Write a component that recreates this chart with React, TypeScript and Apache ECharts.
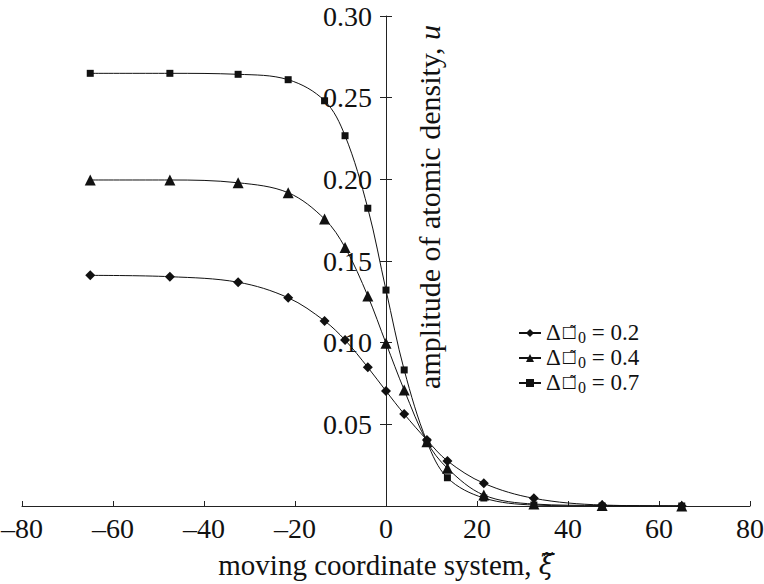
import React, { useEffect, useRef } from "react";
import * as echarts from "echarts";

const xi = [-65, -47.5, -32.5, -21.5, -13.5, -9, -4, 0, 4, 9, 13.5, 21.5, 32.5, 47.5, 65];
const u02 = [0.1412, 0.1404, 0.137, 0.1275, 0.1133, 0.1016, 0.0849, 0.0704, 0.0563, 0.0404, 0.0276, 0.0139, 0.0047, 0.0006, 0.0];
const u04 = [0.1996, 0.1996, 0.1979, 0.1918, 0.1757, 0.1583, 0.1286, 0.0996, 0.071, 0.0394, 0.0231, 0.0067, 0.0012, 0.0003, 0.0];
const u07 = [0.2649, 0.2649, 0.2643, 0.261, 0.2481, 0.2267, 0.1823, 0.1322, 0.0833, 0.0394, 0.0173, 0.0049, 0.0006, 0.0, 0.0];
const seriesNames = ["0.2", "0.4", "0.7"];
const xTicks = { min: -80, max: 80, interval: 20 };
const yTicks = { min: 0, max: 0.3, interval: 0.05 };

const FONT = "Liberation Serif";
const GRID_LEFT = 22;
const GRID_RIGHT = 14;
const CHART_W = 764;

export default function App() {
  const ref = useRef<HTMLDivElement>(null);
  useEffect(() => {
    if (!ref.current) return;
    const chart = echarts.init(ref.current, null, { renderer: "svg" });
    const mk = (arr: number[]) => xi.map((x, i) => [x, arr[i]]);
    const symbols = ["diamond", "triangle", "rect"];
    const sizes = [10, 11, 7];
    const datas = [u02, u04, u07];
    const gridW = CHART_W - GRID_LEFT - GRID_RIGHT;
    const zeroOffset = -(gridW * (0 - xTicks.min)) / (xTicks.max - xTicks.min);
    chart.setOption({
      animation: false,
      backgroundColor: "#fff",
      textStyle: { fontFamily: FONT, color: "#111" },
      grid: { left: GRID_LEFT, right: GRID_RIGHT, top: 16, bottom: 78, containLabel: false, outerBoundsMode: "none" },
      legend: {
        orient: "vertical",
        left: 513,
        top: 316,
        itemWidth: 22,
        itemHeight: 10,
        itemGap: 1,
        data: seriesNames,
        formatter: (name: string) => `{a|Δ}{b|□\u0303}{s|0}{a| = ${name}}`,
        textStyle: {
          fontFamily: FONT,
          fontSize: 23,
          color: "#111",
          rich: {
            a: { fontSize: 23, fontFamily: FONT, color: "#111", verticalAlign: "top", lineHeight: 24 },
            b: { fontSize: 16, fontFamily: "DejaVu Sans", fontWeight: "bold", color: "#111", verticalAlign: "top", lineHeight: 24, padding: [2, 0, 0, 1] },
            s: { fontSize: 16, fontFamily: FONT, color: "#111", verticalAlign: "top", lineHeight: 24, padding: [8, 0, 0, 1] },
          },
        },
      },
      xAxis: {
        type: "value",
        min: xTicks.min,
        max: xTicks.max,
        interval: xTicks.interval,
        splitLine: { show: false },
        axisLine: { onZero: true, lineStyle: { color: "#222", width: 1 } },
        axisTick: { inside: true, length: 5, lineStyle: { color: "#222" } },
        axisLabel: {
          fontSize: 28,
          fontFamily: FONT,
          color: "#111",
          margin: 8,
          formatter: (v: number) => String(v).replace("-", "–"),
        },
        name: "moving coordinate system, {i|ξ\u0303}",
        nameLocation: "middle",
        nameGap: 44,
        nameTextStyle: {
          fontSize: 29,
          fontFamily: FONT,
          color: "#111",
          rich: { i: { fontSize: 27, fontFamily: "DejaVu Serif", fontStyle: "italic", color: "#111" } },
        },
      },
      yAxis: [
        {
          type: "value",
          min: yTicks.min,
          max: yTicks.max,
          interval: yTicks.interval,
          position: "left",
          offset: zeroOffset,
          splitLine: { show: false },
          axisLine: { onZero: false, lineStyle: { color: "#222", width: 1 } },
          axisTick: { inside: false, length: 6, lineStyle: { color: "#222" } },
          axisLabel: {
            fontSize: 28,
            fontFamily: FONT,
            color: "#111",
            margin: 14,
            showMinLabel: false,
            formatter: (v: number) => v.toFixed(2),
          },
        },
        {
          type: "value",
          min: yTicks.min,
          max: yTicks.max,
          interval: yTicks.interval,
          position: "left",
          offset: zeroOffset,
          splitLine: { show: false },
          axisLine: { show: false, onZero: false },
          axisTick: { inside: true, length: 6, lineStyle: { color: "#222" } },
          axisLabel: { show: false },
        },
      ],
      graphic: [
        {
          type: "text",
          x: 429,
          y: 207,
          rotation: Math.PI / 2,
          style: {
            text: "amplitude of atomic density, {i|u}",
            fontSize: 30,
            fontFamily: FONT,
            fill: "#111",
            align: "center",
            verticalAlign: "middle",
            rich: { i: { fontSize: 30, fontFamily: FONT, fontStyle: "italic", fill: "#111" } },
          },
        },
      ],
      series: seriesNames.map((n, k) => ({
        name: n,
        type: "line",
        data: mk(datas[k]),
        smooth: 0.35,
        symbol: symbols[k],
        symbolSize: sizes[k],
        showSymbol: true,
        lineStyle: { color: "#111", width: 1 },
        itemStyle: { color: "#111" },
      })),
    });
    return () => chart.dispose();
  }, []);
  return <div ref={ref} style={{ width: 764, height: 584, position: "absolute", left: 0, top: 0 }} />;
}
